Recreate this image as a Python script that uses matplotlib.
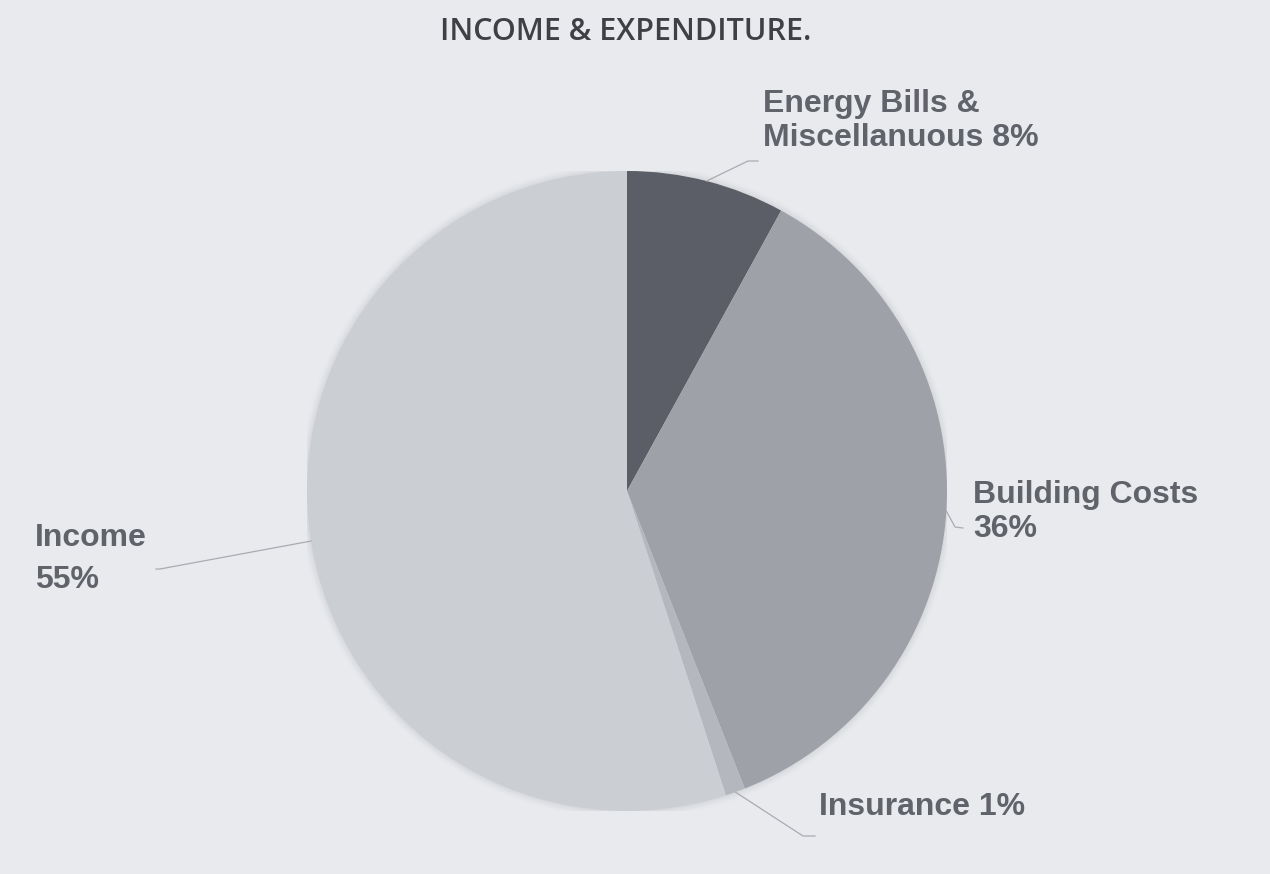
import matplotlib
matplotlib.use("Agg")
import matplotlib.pyplot as plt
import numpy as np

categories = ["Energy Bills &\nMiscellanuous", "Building Costs", "Insurance", "Income"]
values = [8, 36, 1, 55]
label_texts = ["Energy Bills &\nMiscellanuous 8%", "Building Costs\n36%", "Insurance 1%", "Income\n55%"]
colors = ["#5B5E66", "#9EA1A8", "#B4B7BD", "#CBCED3"]

BG = "#E9EAEE"
TXT = "#60636A"

W, H = 1270, 874
fig = plt.figure(figsize=(W / 100, H / 100), dpi=100, facecolor=BG)

cx, cy, R = 627, 491, 320
ax = fig.add_axes([(cx - R) / W, (H - cy - R) / H, 2 * R / W, 2 * R / H])
ax.set_facecolor(BG)

# soft shadow
for i, a in enumerate(np.linspace(0.05, 0.01, 6)):
    c = plt.Circle((0, 0), 1.0 + 0.004 * (i + 1), color="#9A9CA3", alpha=a, lw=0, zorder=0)
    ax.add_patch(c)

wedges, _ = ax.pie(values, colors=colors, startangle=90, counterclock=False,
                   radius=1.0, wedgeprops=dict(linewidth=0))
for w in wedges:
    w.set_zorder(2)
ax.set_xlim(-1, 1)
ax.set_ylim(-1, 1)
ax.set_aspect("equal")
ax.axis("off")

def px2d(px, py):
    return ((px - cx) / R, (cy - py) / R)

# label layout: (elbow px, end px, text px, linespacing)
layout = [
    ((748, 161), (758, 161), (763, 121), 1.15),
    ((955, 527), (963, 528), (973, 512), 1.15),
    ((803, 836), (815, 836), (819, 807), 1.15),
    ((160, 569), (156, 569), (35, 559), 1.55),
]

for w, txt, (elb, end, tp, ls) in zip(wedges, label_texts, layout):
    ang = np.deg2rad((w.theta1 + w.theta2) / 2)
    sx, sy = np.cos(ang), np.sin(ang)
    ex, ey = px2d(*elb)
    fx, fy = px2d(*end)
    ax.plot([sx, ex, fx], [sy, ey, fy], color="#A9ABB1", lw=0.9, clip_on=False, zorder=3)
    tx, ty = px2d(*tp)
    ax.text(tx, ty, txt, ha="left", va="center", fontsize=23, color=TXT, family="Liberation Sans",
            fontweight="bold", linespacing=ls, clip_on=False)

fig.text(626 / W, 1 - 32 / H, "INCOME & EXPENDITURE.", ha="center", va="center",
         fontsize=22, color="#3E4046", family="Open Sans", fontweight="semibold")

fig.savefig("out.png", dpi=100, facecolor=BG)
